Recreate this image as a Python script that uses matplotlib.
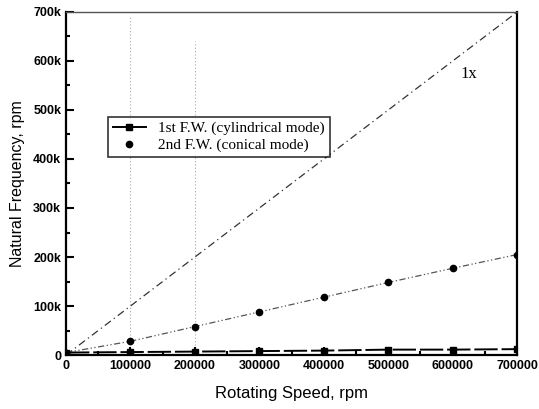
import matplotlib
matplotlib.use("Agg")
import matplotlib.pyplot as plt
from matplotlib.ticker import MultipleLocator, FuncFormatter
from matplotlib.lines import Line2D

speed = [0, 100000, 200000, 300000, 400000, 500000, 600000, 700000]
fw1 = [5000, 6000, 7000, 8000, 9000, 11000, 11000, 12000]
fw2 = [5000, 28000, 58000, 88000, 118000, 148000, 177000, 205000]
line_1x = [0, 700000]
grid_x = [100000, 200000]
grid_top = [690000, 640000]

fig = plt.figure(figsize=(5.39, 4.09), dpi=100)
ax = fig.add_axes([0.1225, 0.132, 0.837, 0.8387])

for gx, gt in zip(grid_x, grid_top):
    ax.plot([gx, gx], [0, gt], color="#aaaaaa", lw=0.8, ls=(0, (1, 2)), zorder=1)

ax.plot(line_1x, line_1x, color="#333333", lw=0.9, ls=(0, (6, 3, 1, 3)), zorder=2)
ax.plot(speed, fw2, color="#555555", lw=0.9, ls=(0, (5, 2, 1, 2, 1, 2)), zorder=2)
ax.plot(speed, fw2, ls="none", marker="o", ms=4.5, color="black", zorder=3)
ax.plot(speed, fw1, color="black", lw=1.4, ls=(0, (12, 2)), marker="s", ms=5, zorder=3)

ax.set_xlim(0, 700000)
ax.set_ylim(0, 700000)
ax.xaxis.set_major_locator(MultipleLocator(100000))
ax.xaxis.set_minor_locator(MultipleLocator(50000))
ax.yaxis.set_major_locator(MultipleLocator(100000))
ax.yaxis.set_minor_locator(MultipleLocator(50000))
ax.yaxis.set_major_formatter(FuncFormatter(lambda v, p: "0" if v == 0 else f"{int(v/1000)}k"))
ax.xaxis.set_major_formatter(FuncFormatter(lambda v, p: f"{int(v)}"))
ax.tick_params(which="both", direction="in", top=False, right=False, width=1.5)
ax.tick_params(which="major", length=6)
ax.tick_params(which="minor", length=3)
for lab in ax.get_xticklabels() + ax.get_yticklabels():
    lab.set_fontfamily("Liberation Sans")
    lab.set_fontweight("bold")
    lab.set_fontsize(9)
for s in ax.spines.values():
    s.set_linewidth(1.6)
ax.spines["top"].set_linewidth(1.0)
ax.spines["top"].set_color("#555555")

ax.set_xlabel("Rotating Speed, rpm", fontfamily="Liberation Sans", fontsize=12, labelpad=10)
ax.set_ylabel("Natural Frequency, rpm", fontfamily="Liberation Sans", fontsize=11.5, labelpad=6)

ax.text(612000, 565000, "1x", fontfamily="Liberation Serif", fontsize=12)

handles = [Line2D([], [], color="black", lw=1.4, marker="s", ms=5),
           Line2D([], [], color="black", ls="none", marker="o", ms=4.5)]
labels = ["1st F.W. (cylindrical mode)", "2nd F.W. (conical mode)"]
leg = ax.legend(handles, labels, loc="upper left", bbox_to_anchor=(0.093, 0.694),
                prop={"family": "Liberation Serif", "size": 11}, frameon=True,
                fancybox=False, edgecolor="black", borderpad=0.3, handlelength=2.2,
                labelspacing=0.2, borderaxespad=0)
leg.get_frame().set_linewidth(1.2)

fig.savefig("out.png", dpi=100)
